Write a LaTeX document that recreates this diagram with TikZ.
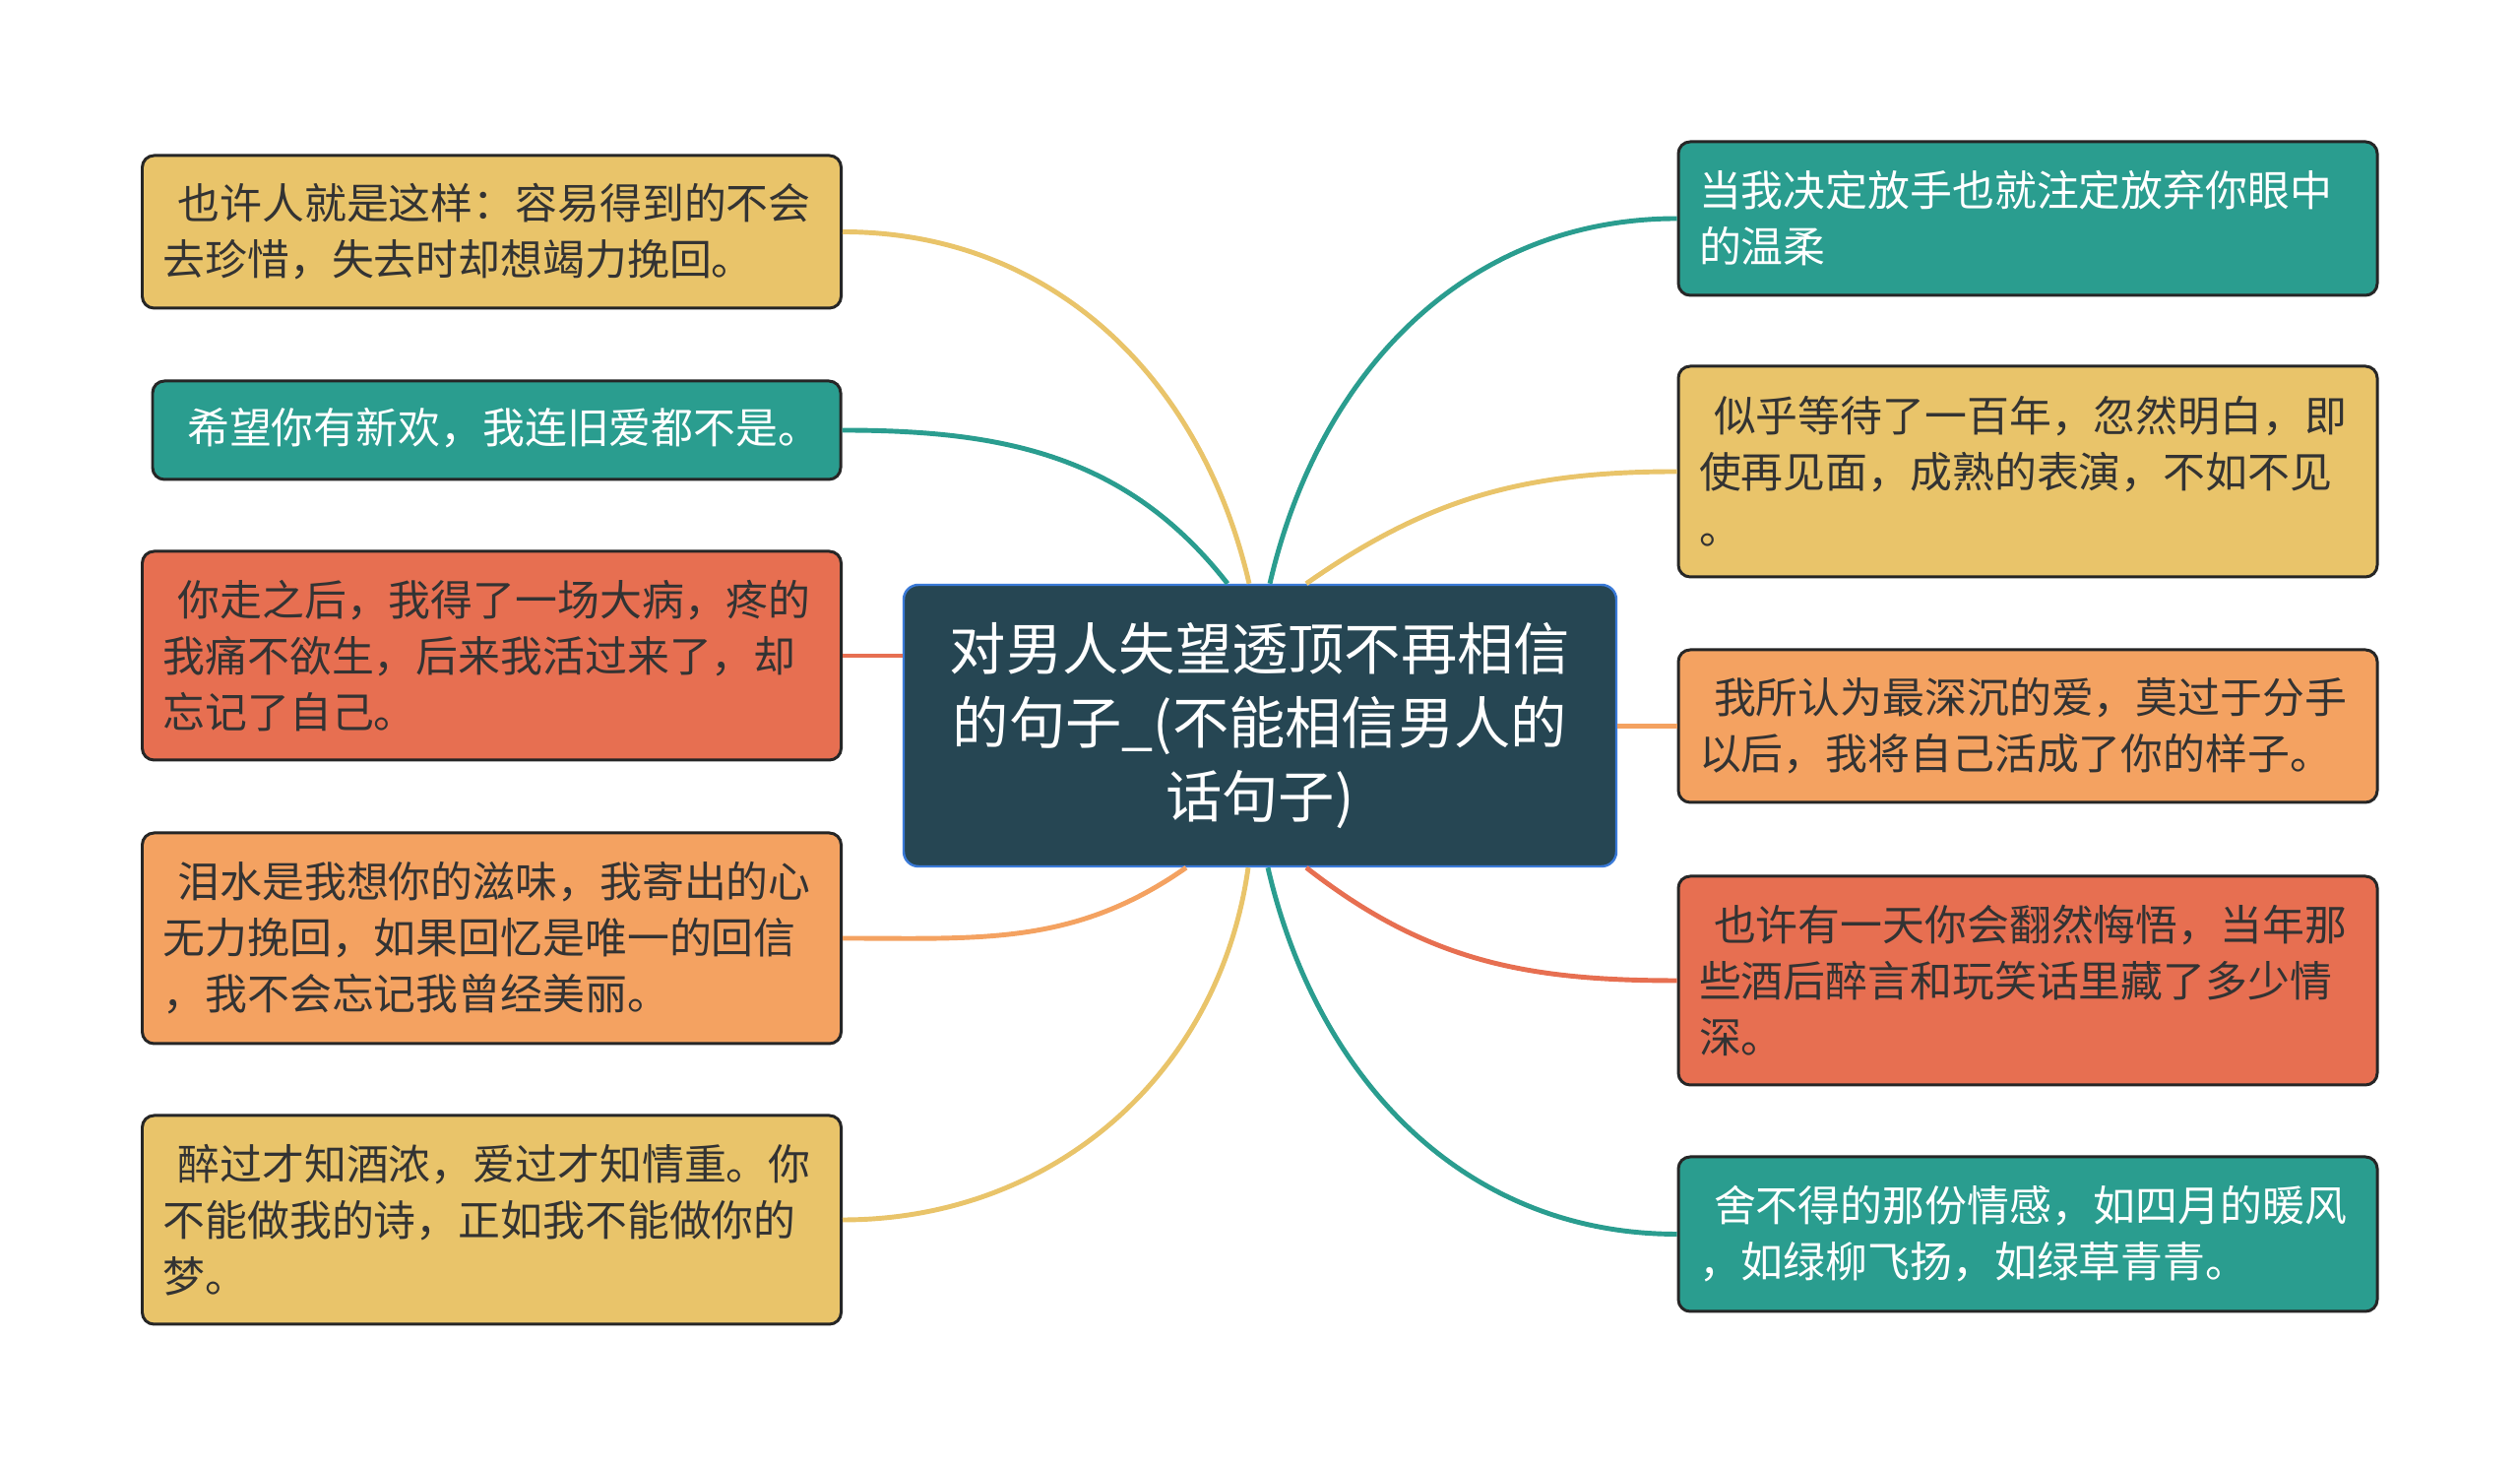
\documentclass[tikz,border=0pt]{standalone}
\usepackage{fontspec}
\setmainfont{Noto Sans CJK SC}
\usepackage{xcolor}
\usepackage{tikz}
\usetikzlibrary{positioning, calc}
\definecolor{myyellow}{RGB}{233,196,106}
\definecolor{myteal}{RGB}{42,157,143}
\definecolor{myorange}{RGB}{244,162,97}
\definecolor{myred}{RGB}{231,111,81}
\definecolor{mydark}{RGB}{38,70,83}
\definecolor{myblue}{RGB}{58,122,216}
\definecolor{mytext}{RGB}{51,51,51}
\tikzset{
  leaf/.style={rectangle, draw=black!85, line width=0.85pt,
    rounded corners=0.12cm, inner xsep=0.21cm, inner ysep=0pt,
    text width=6.68cm, align=left, text=mytext,
    font=\fontsize{12.2pt}{16.2pt}\selectfont},
  yellowleaf/.style={leaf, fill=myyellow},
  tealleaf/.style={leaf, fill=myteal, text=white},
  orangeleaf/.style={leaf, fill=myorange},
  redleaf/.style={leaf, fill=myred},
  rootblock/.style={rectangle, draw=myblue, fill=mydark, line width=0.7pt,
    rounded corners=0.15cm, minimum width=7.24cm, minimum height=2.86cm,
    text width=6.8cm, align=center, text=white,
    font=\fontsize{16.3pt}{21.3pt}\selectfont},
  yellowline/.style={draw=myyellow, line width=1.4pt},
  tealline/.style={draw=myteal, line width=1.4pt},
  orangeline/.style={draw=myorange, line width=1.4pt},
  redline/.style={draw=myred, line width=1.4pt}
}
\newcommand{\lead}{\hspace{0.35em}}

\begin{document}
\begin{tikzpicture}
  \fill[white] (0,0) rectangle (25.6,14.9);
  \useasboundingbox (0,0) rectangle (25.6,14.9);

  % Root
  \node[rootblock] (root) at (12.80,7.53) {对男人失望透顶不再相信\\的句子\_(不能相信男人的\\话句子)};

  % Left branches
  \node[yellowleaf, minimum height=1.55cm] (lone) at (4.995,12.545) {\lead 也许人就是这样：容易得到的不会\\去珍惜，失去时却想竭力挽回。};
  \node[tealleaf, minimum height=1.00cm, text width=6.57cm] (ltwo) at (5.045,10.53) {\raisebox{0.09cm}{\hspace{0.33em}希望你有新欢，我连旧爱都不是。}};
  \node[redleaf, minimum height=2.12cm] (lthree) at (4.995,8.24) {\lead 你走之后，我得了一场大病，疼的\\我痛不欲生，后来我活过来了，却\\忘记了自己。};
  \node[orangeleaf, minimum height=2.14cm] (lfour) at (4.995,5.37) {\lead 泪水是我想你的滋味，我寄出的心\\无力挽回，如果回忆是唯一的回信\\，我不会忘记我曾经美丽。};
  \node[yellowleaf, minimum height=2.12cm] (lfive) at (4.995,2.51) {\lead 醉过才知酒浓，爱过才知情重。你\\不能做我的诗，正如我不能做你的\\梦。};

  % Right branches
  \node[tealleaf, minimum height=1.56cm] (rone) at (20.60,12.68) {当我决定放手也就注定放弃你眼中\\的温柔};
  \node[yellowleaf, minimum height=2.14cm] (rtwo) at (20.60,10.11) {\lead 似乎等待了一百年，忽然明白，即\\使再见面，成熟的表演，不如不见\\。};
  \node[orangeleaf, minimum height=1.55cm] (rthree) at (20.60,7.525) {\lead 我所认为最深沉的爱，莫过于分手\\以后，我将自己活成了你的样子。};
  \node[redleaf, minimum height=2.12cm] (rfour) at (20.60,4.94) {\lead 也许有一天你会翻然悔悟，当年那\\些酒后醉言和玩笑话里藏了多少情\\深。};
  \node[tealleaf, minimum height=1.57cm] (rfive) at (20.60,2.365) {\lead 舍不得的那份情感，如四月的暖风\\，如绿柳飞扬，如绿草青青。};

  % Connectors
  \draw[yellowline] (lone.east) to[out=0, in=103] ([xshift=-0.11cm]root.north);
  \draw[tealline] (ltwo.east) to[out=0, in=128] ([xshift=-0.33cm]root.north);
  \draw[redline] (lthree.east) -- (lthree.east -| root.west);
  \draw[orangeline] (lfour.east) to[out=0, in=215] ([xshift=-0.75cm]root.south);
  \draw[yellowline] (lfive.east) to[out=0, in=262] ([xshift=-0.12cm]root.south);
  \draw[tealline] (rone.west) to[out=180, in=77] ([xshift=0.10cm]root.north);
  \draw[yellowline] (rtwo.west) to[out=180, in=35] ([xshift=0.47cm]root.north);
  \draw[orangeline] (rthree.west) -- (rthree.west -| root.east);
  \draw[redline] (rfour.west) to[out=180, in=-38] ([xshift=0.47cm]root.south);
  \draw[tealline] (rfive.west) to[out=180, in=-77] ([xshift=0.08cm]root.south);
\end{tikzpicture}
\end{document}
